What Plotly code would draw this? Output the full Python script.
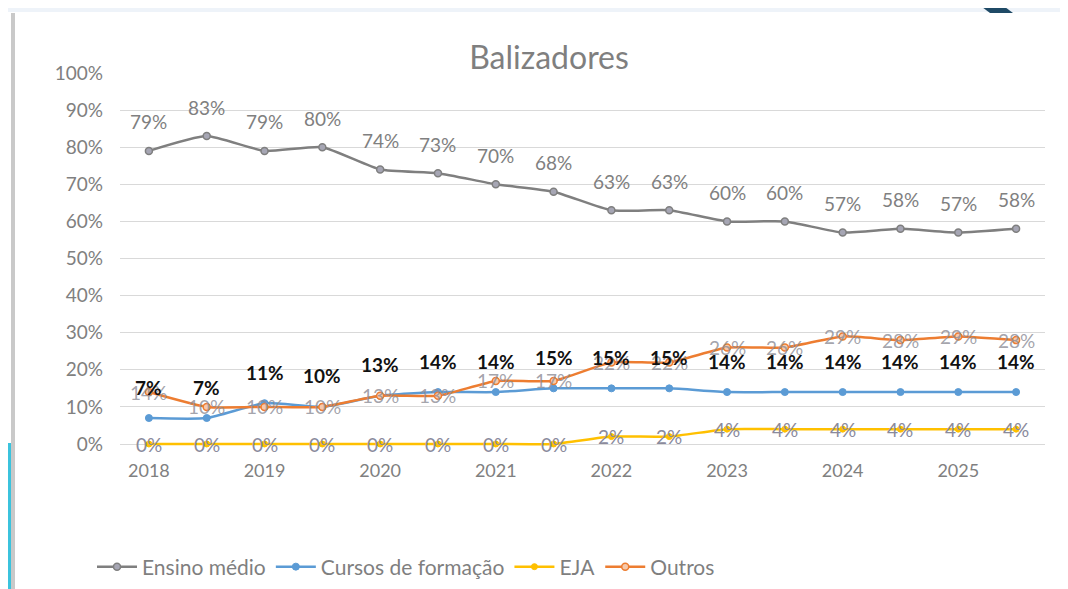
import plotly.graph_objects as go

# ---- data ----
periods = list(range(16))
year_ticks = [0, 2, 4, 6, 8, 10, 12, 14]
year_labels = ["2018", "2019", "2020", "2021", "2022", "2023", "2024", "2025"]

ensino_medio = [79, 83, 79, 80, 74, 73, 70, 68, 63, 63, 60, 60, 57, 58, 57, 58]
cursos_formacao = [7, 7, 11, 10, 13, 14, 14, 15, 15, 15, 14, 14, 14, 14, 14, 14]
eja = [0, 0, 0, 0, 0, 0, 0, 0, 2, 2, 4, 4, 4, 4, 4, 4]
outros = [14, 10, 10, 10, 13, 13, 17, 17, 22, 22, 26, 26, 29, 28, 29, 28]

FONT = "Lato"
OFF = 8  # page body margin
W, H = 1068 - OFF, 589 - OFF
# plot area in page pixels (bottom extended 3px so the 0% line is not clipped)
Y100, Y0 = 73, 444
PAD = 3
PL, PT, PR, PB = 120, Y100, 1045, Y0 + PAD
L, T = PL - OFF, PT - OFF
R, B = 1068 - PR, 589 - PB
PW, PH = PR - PL, PB - PT
YMIN = -100 * PAD / (Y0 - Y100)


def px(x):
    return (x - PL) / PW


def py(y):
    return (PB - y) / PH


fig = go.Figure()

series = [
    ("Ensino médio", ensino_medio, "#7f7f7f", dict(size=7, color="#a6a6b4", line=dict(color="#7f7f7f", width=1.5))),
    ("Cursos de formação", cursos_formacao, "#5b9bd5", dict(size=7, color="#5b9bd5", line=dict(color="#5b9bd5", width=1))),
    ("EJA", eja, "#ffc000", dict(size=6, color="#ffc000", line=dict(color="#ffc000", width=1))),
    ("Outros", outros, "#ed7d31", dict(size=7, color="#f6c9ab", line=dict(color="#ed7d31", width=1.5))),
]
for name, vals, col, mk in series:
    fig.add_trace(go.Scatter(
        x=periods, y=vals, name=name, mode="lines+markers",
        line=dict(color=col, width=2.5, shape="spline", smoothing=0.5),
        marker=dict(symbol="circle", **mk),
        cliponaxis=False,
        hoverinfo="skip",
    ))

annotations = []
# Outros labels (centered on line)
for x, v in zip(periods, outros):
    annotations.append(dict(x=x, y=v, text=f"{v}%", showarrow=False,
                            font=dict(family=FONT, size=19, color="rgba(140,140,150,0.8)")))
# EJA labels (centered)
for x, v in zip(periods, eja):
    annotations.append(dict(x=x, y=v, text=f"{v}%", showarrow=False,
                            font=dict(family=FONT, size=19, color="#8a8a9c")))
# Ensino médio labels (above)
for x, v in zip(periods, ensino_medio):
    annotations.append(dict(x=x, y=v, yshift=29, text=f"{v}%", showarrow=False,
                            font=dict(family=FONT, size=19, color="#808080")))
# Cursos labels (above, bold black)
for x, v in zip(periods, cursos_formacao):
    annotations.append(dict(x=x, y=v, yshift=31, text=f"<b>{v}%</b>", showarrow=False,
                            font=dict(family=FONT, size=19, color="#111111")))

shapes = [
    # top band of screenshot frame
    dict(type="rect", xref="paper", yref="paper", x0=px(0), x1=px(1068), y0=py(0), y1=py(12),
         fillcolor="#eef3f9", line=dict(width=0), layer="below"),
    # left grey border line
    dict(type="rect", xref="paper", yref="paper", x0=px(11), x1=px(15), y0=py(13), y1=py(589),
         fillcolor="#c9c9c9", line=dict(width=0), layer="below"),
    # cyan strip
    dict(type="rect", xref="paper", yref="paper", x0=px(4), x1=px(11), y0=py(443), y1=py(589),
         fillcolor="#3bc3dd", line=dict(width=0), layer="below"),
    # dark corner shape
    dict(type="path", xref="paper", yref="paper",
         path=f"M {px(982)} {py(7)} L {px(1005)} {py(7)} L {px(1013)} {py(13)} L {px(990)} {py(13)} Z",
         fillcolor="#1f4a66", line=dict(width=0)),
]

fig.update_layout(
    width=W, height=H,
    margin=dict(l=L, r=R, t=T, b=B, autoexpand=False),
    paper_bgcolor="white", plot_bgcolor="white",
    title=dict(text="Balizadores", x=(549 - OFF) / W, xanchor="center", y=1 - (58 - OFF) / H, yanchor="middle",
               font=dict(family=FONT, size=32, color="#7f7f7f")),
    xaxis=dict(range=[-0.5, 15.5], tickmode="array", tickvals=year_ticks, ticktext=year_labels,
               showgrid=False, zeroline=False, showline=False, ticks="",
               tickfont=dict(family=FONT, size=18, color="#808080"), ticklabelstandoff=11),
    yaxis=dict(range=[YMIN, 100], tickmode="array", tickvals=list(range(0, 101, 10)),
               ticktext=[f"{v}%" for v in range(0, 101, 10)],
               showgrid=True, gridcolor="#d9d9d9", gridwidth=1, zeroline=False, showline=False,
               ticks="", tickfont=dict(family=FONT, size=19, color="#808080"), ticklabelstandoff=16),
    legend=dict(orientation="h", x=px(92), xanchor="left", y=py(567), yanchor="middle",
                font=dict(family=FONT, size=21, color="#7f7f7f"), itemwidth=40,
                tracegroupgap=0, bgcolor="rgba(0,0,0,0)"),
    annotations=annotations,
    shapes=shapes,
    showlegend=True,
)

fig.write_html("out.html")
